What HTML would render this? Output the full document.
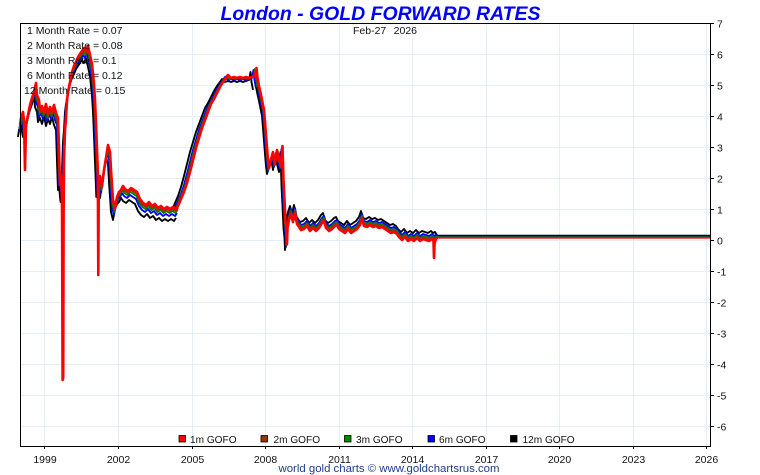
<!DOCTYPE html>
<html><head><meta charset="utf-8"><style>
html,body{margin:0;padding:0;background:#fff;}
svg{display:block;}
text{font-family:"Liberation Sans",Arial,sans-serif;}
</style></head><body>
<svg width="760" height="475" viewBox="0 0 760 475" xmlns="http://www.w3.org/2000/svg">
<rect width="760" height="475" fill="#fff"/>
<!-- grid -->
<g stroke="#e2eef8" stroke-width="1">
<line x1="20" y1="54.5" x2="710" y2="54.5"/><line x1="20" y1="85.5" x2="710" y2="85.5"/><line x1="20" y1="116.5" x2="710" y2="116.5"/><line x1="20" y1="147.5" x2="710" y2="147.5"/><line x1="20" y1="178.5" x2="710" y2="178.5"/><line x1="20" y1="209.5" x2="710" y2="209.5"/><line x1="20" y1="240.5" x2="710" y2="240.5"/><line x1="20" y1="271.5" x2="710" y2="271.5"/><line x1="20" y1="302.5" x2="710" y2="302.5"/><line x1="20" y1="333.5" x2="710" y2="333.5"/><line x1="20" y1="364.5" x2="710" y2="364.5"/><line x1="20" y1="395.5" x2="710" y2="395.5"/><line x1="20" y1="426.5" x2="710" y2="426.5"/>
<line x1="44.5" y1="23" x2="44.5" y2="446"/><line x1="118.5" y1="23" x2="118.5" y2="446"/><line x1="192.5" y1="23" x2="192.5" y2="446"/><line x1="265.5" y1="23" x2="265.5" y2="446"/><line x1="339.5" y1="23" x2="339.5" y2="446"/><line x1="412.5" y1="23" x2="412.5" y2="446"/><line x1="486.5" y1="23" x2="486.5" y2="446"/><line x1="559.5" y1="23" x2="559.5" y2="446"/><line x1="633.5" y1="23" x2="633.5" y2="446"/><line x1="706.5" y1="23" x2="706.5" y2="446"/>
</g>

<g fill="none" stroke-linejoin="round">
<!-- BLACK -->
<g stroke="#000" stroke-width="1.9">
<polyline transform="translate(-2,12)" points="20,125 21,118 23,112 24,120 25,125 26,125 28,115 30,105 32,98 34,92 36,83 37,95 39,100 40,110 42,106 44,112 46,104 48,114 50,107 52,112 54,105 56,113 58,118 59,150 60,178 61,172 62,185 62.6,190 63.6,185 64,160 65,130 66,118 67,100 68,92 70,82 72,72 74,66 76,62 78,57 80,54 82,51 84,48 86,51 88,46 90,55 92,64 94,84 95,100 96,124 97,150 97.8,170 98.3,185 98.8,180 100,176 102,186 104,170 106,158 108,145 110,152 111,170 113,200 115,208 117,197 119,192 121,190 123,186 125,189 128,191 131,188 134,190 137,192 140,199 143,203 146,205 149,202 152,206 155,204 158,208 161,206 164,209 167,207 170,209 173,207 176,209 178,206"/>
<polyline transform="translate(-6,4)" points="176,209 178,206 181,199 184,192 187,183 190,172 193,160 196,148 199,138 202,128 205,120 208,112 211,104 214,99 217,93 220,87 223,82 226,78 228,75 231,78 234,77 237,78 240,77 243,78 246,77 249,78 252,77 255,76 256.5,68 257.5,78 259,86"/>
<polyline transform="translate(-2,6)" points="257.5,78 259,86 261,95 262,100 264,110 265,122 266,135 267,148 268,160 269,168 271,160 273,152 274,158 275,164 277,150 279,158 281,166 282.5,146 283.5,180 284.5,200 285.5,222 286.5,232 287,244 287.5,228"/>
<polyline transform="translate(-1,-8)" points="287,240 287.5,228 289,220 291,214 293,222 295,213 297,224 299,227 301,230 304,229 307,226 310,231 313,228 316,231 319,228 322,223 324,221 326,228 329,231 332,229 335,226 337,225 339,229 342,231 345,233 348,229 351,233 354,231 357,229 360,225 362,219 364,226 367,227 370,225 373,227 376,226 379,228 382,227 385,229 388,231 391,233 394,232 397,234 399,237 402,240 405,237 408,241 411,239 414,241 417,238 420,241 423,239 426,240 429,241 432,239 434,241 436,240 438,243.3"/>
<line x1="437" y1="235.4" x2="710" y2="235.4" stroke-width="1.3"/>
</g>
<!-- BLUE -->
<g stroke="#0000ff" stroke-width="1.9">
<polyline transform="translate(-1,7)" points="20,125 21,118 23,112 24,120 25,125 26,125 28,115 30,105 32,98 34,92 36,83 37,95 39,100 40,110 42,106 44,112 46,104 48,114 50,107 52,112 54,105 56,113 58,118 59,150 60,178 61,172 62,185 62.6,190 63.6,185 64,160 65,130 66,118 67,100 68,92 70,82 72,72 74,66 76,62 78,57 80,54 82,51 84,48 86,51 88,46 90,55 92,64 94,84 95,100 96,124 97,150 97.8,170 98.3,185 98.8,180 100,176 102,186 104,170 106,158 108,145 110,152 111,170 113,200 115,208 117,197 119,192 121,190 123,186 125,189 128,191 131,188 134,190 137,192 140,199 143,203 146,205 149,202 152,206 155,204 158,208 161,206 164,209 167,207 170,209 173,207 176,209 178,206"/>
<polyline transform="translate(-3,2)" points="176,209 178,206 181,199 184,192 187,183 190,172 193,160 196,148 199,138 202,128 205,120 208,112 211,104 214,99 217,93 220,87 223,82 226,78 228,75 231,78 234,77 237,78 240,77 243,78 246,77 249,78 252,77 255,76 256.5,68 257.5,78 259,86"/>
<polyline transform="translate(-1,3)" points="257.5,78 259,86 261,95 262,100 264,110 265,122 266,135 267,148 268,160 269,168 271,160 273,152 274,158 275,164 277,150 279,158 281,166 282.5,146 283.5,180 284.5,200 285.5,222 286.5,232 287,244 287.5,228"/>
<polyline transform="translate(0,-5)" points="287,240 287.5,228 289,220 291,214 293,222 295,213 297,224 299,227 301,230 304,229 307,226 310,231 313,228 316,231 319,228 322,223 324,221 326,228 329,231 332,229 335,226 337,225 339,229 342,231 345,233 348,229 351,233 354,231 357,229 360,225 362,219 364,226 367,227 370,225 373,227 376,226 379,228 382,227 385,229 388,231 391,233 394,232 397,234 399,237 402,240 405,237 408,241 411,239 414,241 417,238 420,241 423,239 426,240 429,241 432,239 434,241 436,240 438,241.5"/>
<line x1="437" y1="236.4" x2="710" y2="236.4" stroke-width="1.3"/>
</g>
<!-- GREEN -->
<g stroke="#008000" stroke-width="1.9">
<polyline transform="translate(-0.5,4)" points="20,125 21,118 23,112 24,120 25,125 26,125 28,115 30,105 32,98 34,92 36,83 37,95 39,100 40,110 42,106 44,112 46,104 48,114 50,107 52,112 54,105 56,113 58,118 59,150 60,178 61,172 62,185 62.6,190 63.6,185 64,160 65,130 66,118 67,100 68,92 70,82 72,72 74,66 76,62 78,57 80,54 82,51 84,48 86,51 88,46 90,55 92,64 94,84 95,100 96,124 97,150 97.8,170 98.3,185 98.8,180 100,176 102,186 104,170 106,158 108,145 110,152 111,170 113,200 115,208 117,197 119,192 121,190 123,186 125,189 128,191 131,188 134,190 137,192 140,199 143,203 146,205 149,202 152,206 155,204 158,208 161,206 164,209 167,207 170,209 173,207 176,209 178,206"/>
<polyline transform="translate(-1.5,1)" points="176,209 178,206 181,199 184,192 187,183 190,172 193,160 196,148 199,138 202,128 205,120 208,112 211,104 214,99 217,93 220,87 223,82 226,78 228,75 231,78 234,77 237,78 240,77 243,78 246,77 249,78 252,77 255,76 256.5,68 257.5,78 259,86"/>
<polyline transform="translate(-0.5,1.5)" points="257.5,78 259,86 261,95 262,100 264,110 265,122 266,135 267,148 268,160 269,168 271,160 273,152 274,158 275,164 277,150 279,158 281,166 282.5,146 283.5,180 284.5,200 285.5,222 286.5,232 287,244 287.5,228"/>
<polyline transform="translate(0,-3)" points="287,240 287.5,228 289,220 291,214 293,222 295,213 297,224 299,227 301,230 304,229 307,226 310,231 313,228 316,231 319,228 322,223 324,221 326,228 329,231 332,229 335,226 337,225 339,229 342,231 345,233 348,229 351,233 354,231 357,229 360,225 362,219 364,226 367,227 370,225 373,227 376,226 379,228 382,227 385,229 388,231 391,233 394,232 397,234 399,237 402,240 405,237 408,241 411,239 414,241 417,238 420,241 423,239 426,240 429,241 432,239 434,241 436,240 438,240"/>
<line x1="437" y1="236.9" x2="710" y2="236.9" stroke-width="1.2"/>
</g>
<!-- BROWN -->
<g stroke="#993300" stroke-width="1.9">
<polyline transform="translate(0,2)" points="20,125 21,118 23,112 24,120 25,125 26,125 28,115 30,105 32,98 34,92 36,83 37,95 39,100 40,110 42,106 44,112 46,104 48,114 50,107 52,112 54,105 56,113 58,118 59,150 60,178 61,172 62,185 62.6,190 63.6,185 64,160 65,130 66,118 67,100 68,92 70,82 72,72 74,66 76,62 78,57 80,54 82,51 84,48 86,51 88,46 90,55 92,64 94,84 95,100 96,124 97,150 97.8,170 98.3,185 98.8,180 100,176 102,186 104,170 106,158 108,145 110,152 111,170 113,200 115,208 117,197 119,192 121,190 123,186 125,189 128,191 131,188 134,190 137,192 140,199 143,203 146,205 149,202 152,206 155,204 158,208 161,206 164,209 167,207 170,209 173,207 176,209 178,206"/>
<polyline transform="translate(-0.7,0.5)" points="176,209 178,206 181,199 184,192 187,183 190,172 193,160 196,148 199,138 202,128 205,120 208,112 211,104 214,99 217,93 220,87 223,82 226,78 228,75 231,78 234,77 237,78 240,77 243,78 246,77 249,78 252,77 255,76 256.5,68 257.5,78 259,86"/>
<polyline transform="translate(0,0.8)" points="257.5,78 259,86 261,95 262,100 264,110 265,122 266,135 267,148 268,160 269,168 271,160 273,152 274,158 275,164 277,150 279,158 281,166 282.5,146 283.5,180 284.5,200 285.5,222 286.5,232 287,244 287.5,228"/>
<polyline transform="translate(0,-1.5)" points="287,240 287.5,228 289,220 291,214 293,222 295,213 297,224 299,227 301,230 304,229 307,226 310,231 313,228 316,231 319,228 322,223 324,221 326,228 329,231 332,229 335,226 337,225 339,229 342,231 345,233 348,229 351,233 354,231 357,229 360,225 362,219 364,226 367,227 370,225 373,227 376,226 379,228 382,227 385,229 388,231 391,233 394,232 397,234 399,237 402,240 405,237 408,241 411,239 414,241 417,238 420,241 423,239 426,240 429,241 432,239 434,241 436,240 438,239"/>
<line x1="437" y1="237.4" x2="710" y2="237.4" stroke-width="1.2"/>
</g>
<!-- RED -->
<g stroke="#ff0000" stroke-width="2.6">
<polyline points="20,125 21,118 23,112 24,120 25,170 26,125 28,115 30,105 32,98 34,92 36,83 37,95 39,100 40,110 42,106 44,112 46,104 48,114 50,107 52,112 54,105 56,113 58,118 59,150 60,185 61,175 62,200 62.6,380 63.2,378 63.6,215 64,160 65,130 66,118 67,100 68,92 70,82 72,72 74,66 76,62 78,57 80,54 82,51 84,48 86,51 88,46 90,55 92,64 94,84 95,100 96,124 97,150 97.8,170 98.3,275 98.8,180 100,176 102,186 104,170 106,158 108,145 110,152 111,170 113,200 115,208 117,197 119,192 121,190 123,186 125,189 128,191 131,188 134,190 137,192 140,199 143,203 146,205 149,202 152,206 155,204 158,208 161,206 164,209 167,207 170,209 173,207 176,209 178,206 181,199 184,192 187,183 190,172 193,160 196,148 199,138 202,128 205,120 208,112 211,104 214,99 217,93 220,87 223,82 226,78 228,75 231,78 234,77 237,78 240,77 243,78 246,77 249,78 252,77 255,76 256.5,68 257.5,78 259,86 261,95 262,100 264,110 265,122 266,135 267,148 268,160 269,168 271,160 273,152 274,158 275,164 277,150 279,158 281,166 282.5,146 283.5,180 284.5,200 285.5,222 286.5,232 287,244 287.5,228 289,220 291,214 293,222 295,213 297,224 299,227 301,230 304,229 307,226 310,231 313,228 316,231 319,228 322,223 324,221 326,228 329,231 332,229 335,226 337,225 339,229 342,231 345,233 348,229 351,233 354,231 357,229 360,225 362,219 364,226 367,227 370,225 373,227 376,226 379,228 382,227 385,229 388,231 391,233 394,232 397,234 399,237 402,240 405,237 408,241 411,239 414,241 417,238 420,241 423,239 426,240 429,241 432,239 433.5,241 434,258 434.6,243 436,239 437,238"/>
<line x1="437" y1="237.9" x2="710" y2="237.9" stroke-width="1.4"/>
</g>
</g>

<!-- axes box -->
<g stroke="#000" stroke-width="1" fill="none">
<rect x="20.5" y="23.5" width="690" height="423"/>
</g>
<g stroke="#000" stroke-width="1">
<line x1="710" y1="23.5" x2="714" y2="23.5"/><line x1="710" y1="54.5" x2="714" y2="54.5"/><line x1="710" y1="85.5" x2="714" y2="85.5"/><line x1="710" y1="116.5" x2="714" y2="116.5"/><line x1="710" y1="147.5" x2="714" y2="147.5"/><line x1="710" y1="178.5" x2="714" y2="178.5"/><line x1="710" y1="209.5" x2="714" y2="209.5"/><line x1="710" y1="240.5" x2="714" y2="240.5"/><line x1="710" y1="271.5" x2="714" y2="271.5"/><line x1="710" y1="302.5" x2="714" y2="302.5"/><line x1="710" y1="333.5" x2="714" y2="333.5"/><line x1="710" y1="364.5" x2="714" y2="364.5"/><line x1="710" y1="395.5" x2="714" y2="395.5"/><line x1="710" y1="426.5" x2="714" y2="426.5"/>
<line x1="44.5" y1="446" x2="44.5" y2="449"/><line x1="118.5" y1="446" x2="118.5" y2="449"/><line x1="192.5" y1="446" x2="192.5" y2="449"/><line x1="265.5" y1="446" x2="265.5" y2="449"/><line x1="339.5" y1="446" x2="339.5" y2="449"/><line x1="412.5" y1="446" x2="412.5" y2="449"/><line x1="486.5" y1="446" x2="486.5" y2="449"/><line x1="559.5" y1="446" x2="559.5" y2="449"/><line x1="633.5" y1="446" x2="633.5" y2="449"/><line x1="706.5" y1="446" x2="706.5" y2="449"/>
</g>
<g font-size="10.5" fill="#111">
<text x="717" y="27.5">7</text><text x="717" y="58.5">6</text><text x="717" y="89.5">5</text><text x="717" y="120.5">4</text><text x="717" y="151.5">3</text><text x="717" y="182.5">2</text><text x="717" y="213.5">1</text><text x="717" y="244.5">0</text><text x="717" y="275.5">-1</text><text x="717" y="306.5">-2</text><text x="717" y="337.5">-3</text><text x="717" y="368.5">-4</text><text x="717" y="399.5">-5</text><text x="717" y="430.5">-6</text>
</g>
<g font-size="10.5" fill="#111" text-anchor="middle">
<text x="45" y="463">1999</text><text x="118.5" y="463">2002</text><text x="192.5" y="463">2005</text><text x="265.5" y="463">2008</text><text x="339.5" y="463">2011</text><text x="412.5" y="463">2014</text><text x="486.5" y="463">2017</text><text x="559.5" y="463">2020</text><text x="633.5" y="463">2023</text><text x="706.5" y="463">2026</text>
</g>
<text x="380.5" y="20" font-size="19" font-weight="bold" font-style="italic" fill="#0000ff" text-anchor="middle" textLength="320" lengthAdjust="spacingAndGlyphs">London - GOLD FORWARD RATES</text>
<g font-size="10.5" fill="#111">
<text x="27" y="34">1 Month Rate = 0.07</text>
<text x="27" y="49">2 Month Rate = 0.08</text>
<text x="27" y="64">3 Month Rate = 0.1</text>
<text x="27" y="79">6 Month Rate = 0.12</text>
<text x="24" y="94">12 Month Rate = 0.15</text>
<text x="353" y="34">Feb-27</text>
<text x="417" y="34" text-anchor="end">2026</text>
</g>
<g stroke="#000" stroke-width="0.8">
<rect x="179" y="435.5" width="6.5" height="6.5" fill="#ff0000"/>
<rect x="261" y="435.5" width="6.5" height="6.5" fill="#993300"/>
<rect x="344.5" y="435.5" width="6.5" height="6.5" fill="#008800"/>
<rect x="428" y="435.5" width="6.5" height="6.5" fill="#0000ff"/>
<rect x="510.5" y="435.5" width="6.5" height="6.5" fill="#000"/>
</g>
<g font-size="10.1" fill="#111">
<text x="190" y="443">1m GOFO</text>
<text x="273.5" y="443">2m GOFO</text>
<text x="356" y="443">3m GOFO</text>
<text x="439" y="443">6m GOFO</text>
<text x="522.5" y="443">12m GOFO</text>
</g>
<text x="278.5" y="472" font-size="11.2" fill="#1f3d8c" textLength="221" lengthAdjust="spacingAndGlyphs">world gold charts © www.goldchartsrus.com</text>
</svg>
</body></html>
